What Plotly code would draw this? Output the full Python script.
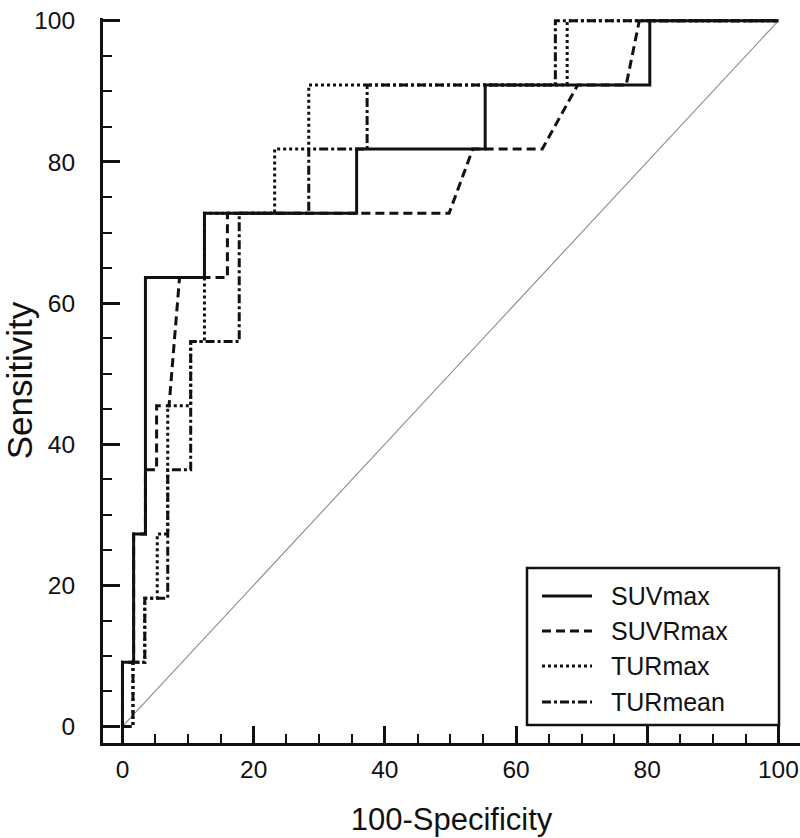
import plotly.graph_objects as go

# ---- data ----
series_names = ["SUVmax", "SUVRmax", "TURmax", "TURmean"]

suvmax_x = [0, 0, 1.7, 1.7, 3.5, 3.5, 12.5, 12.5, 35.7, 35.7, 55.3, 55.3, 80.4, 80.4, 100]
suvmax_y = [0, 9.09, 9.09, 27.27, 27.27, 63.64, 63.64, 72.73, 72.73, 81.82, 81.82, 90.91, 90.91, 100, 100]

suvrmax_x = [0, 0, 1.7, 1.7, 3.5, 3.5, 5.2, 5.2, 7.1, 8.7, 16.0, 16.0, 49.8, 53.4, 64.0, 69.4, 76.8, 78.8, 100]
suvrmax_y = [0, 9.09, 9.09, 27.27, 27.27, 36.36, 36.36, 45.45, 45.45, 63.64, 63.64, 72.73, 72.73, 81.82, 81.82, 90.91, 90.91, 100, 100]

turmax_x = [0, 1.6, 1.6, 3.4, 3.4, 5.3, 5.3, 6.9, 6.9, 10.4, 10.4, 12.5, 12.5, 23.2, 23.2, 28.4, 28.4, 67.8, 67.8, 100]
turmax_y = [0, 0, 9.09, 9.09, 18.18, 18.18, 27.27, 27.27, 45.45, 45.45, 54.55, 54.55, 72.73, 72.73, 81.82, 81.82, 90.91, 90.91, 100, 100]

turmean_x = [0, 1.6, 1.6, 3.4, 3.4, 6.9, 6.9, 10.4, 10.4, 17.8, 17.8, 28.4, 28.4, 37.3, 37.3, 66.0, 66.0, 100]
turmean_y = [0, 0, 9.09, 9.09, 18.18, 18.18, 36.36, 36.36, 54.55, 54.55, 72.73, 72.73, 81.82, 81.82, 90.91, 90.91, 100, 100]

ref_x = [0, 100]
ref_y = [0, 100]

tick_vals = [0, 20, 40, 60, 80, 100]
tick_text = ["0", "20", "40", "60", "80", "100"]

# ---- styles ----
styles = {
    "SUVmax": "solid",
    "SUVRmax": "9px,5px",
    "TURmax": "3px,3px",
    "TURmean": "9px,3px,3px,3px",
}
data = {
    "SUVmax": (suvmax_x, suvmax_y),
    "SUVRmax": (suvrmax_x, suvrmax_y),
    "TURmax": (turmax_x, turmax_y),
    "TURmean": (turmean_x, turmean_y),
}

FONT = "Liberation Sans, Arial, Helvetica, sans-serif"
fig = go.Figure()

fig.add_trace(go.Scatter(x=ref_x, y=ref_y, mode="lines",
                         line=dict(color="#8a8a8a", width=1.1),
                         showlegend=False, hoverinfo="skip"))

for name in ["TURmean", "TURmax", "SUVRmax", "SUVmax"]:
    xs, ys = data[name]
    fig.add_trace(go.Scatter(x=xs, y=ys, mode="lines", name=name,
                             line=dict(color="#111111", width=3, dash=styles[name]),
                             showlegend=False))

# ---- manual legend (box, samples, labels) in paper coordinates ----
L, R, T, B = 103, 800, 18, 743
def px(x):
    return (x - L) / (R - L)
def py(y):
    return (B - y) / (B - T)

fig.add_shape(type="rect", xref="paper", yref="paper",
              x0=px(527), x1=px(779), y0=py(725), y1=py(568),
              line=dict(color="#111111", width=2.5), fillcolor="white", layer="above")
rows = [596, 631, 666, 702]
for name, ry in zip(series_names, rows):
    fig.add_shape(type="line", xref="paper", yref="paper",
                  x0=px(542), x1=px(592), y0=py(ry), y1=py(ry),
                  line=dict(color="#111111", width=3, dash=styles[name]), layer="above")
    fig.add_annotation(xref="paper", yref="paper", x=px(609), y=py(ry),
                       text=name, showarrow=False, xanchor="left", yanchor="middle",
                       font=dict(family=FONT, size=25, color="#111111"))

axis_common = dict(
    showline=True, linecolor="#111111", linewidth=3,
    showgrid=False, zeroline=False, automargin=False,
    ticks="inside", ticklen=17, tickwidth=2.5, tickcolor="#111111",
    tickvals=tick_vals, ticktext=tick_text,
    tickfont=dict(family=FONT, size=24.5, color="#111111"),
    minor=dict(ticks="inside", ticklen=9, tickwidth=2, tickcolor="#111111", dtick=5, tick0=0, showgrid=False),
)

fig.update_layout(
    width=800, height=838,
    margin=dict(l=L, r=800 - R, t=T, b=838 - B),
    paper_bgcolor="white", plot_bgcolor="white",
    xaxis=dict(range=[-2.97, 103.3], ticklabelstandoff=3,
               title=dict(text="100-Specificity", standoff=26,
                          font=dict(family=FONT, size=31, color="#111111")),
               **axis_common),
    yaxis=dict(range=[-2.35, 100.4], ticklabelstandoff=20,
               title=dict(text="Sensitivity", standoff=0,
                          font=dict(family=FONT, size=35, color="#111111")),
               **axis_common),
    showlegend=False,
)

fig.write_html("out.html",
               config={"displayModeBar": False},
               post_script="document.body.style.margin='0';document.body.style.padding='0';document.body.style.overflow='hidden';")
